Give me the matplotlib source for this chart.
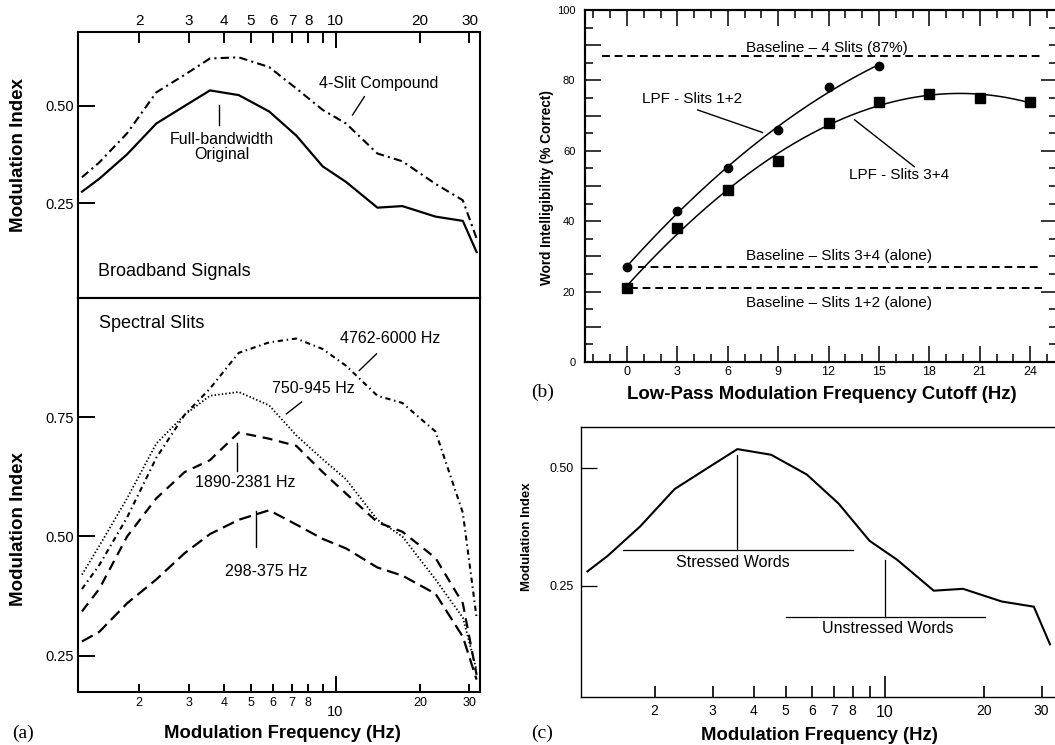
import numpy as np
import matplotlib.pyplot as plt
from matplotlib.ticker import FixedLocator, FuncFormatter, MultipleLocator

plt.rcParams['font.family'] = ['Liberation Sans', 'DejaVu Sans']

# modulation spectra, panels (a) and (c)
freq = [1.25, 1.44, 1.81, 2.30, 2.90, 3.57, 4.52, 5.80, 7.25, 9.0, 10.9, 14.1, 17.3, 22.7, 28.4, 31.8]
original = [0.280, 0.313, 0.376, 0.455, 0.500, 0.540, 0.528, 0.486, 0.424, 0.345, 0.305, 0.239, 0.243, 0.216, 0.205, 0.125]
compound = [0.317, 0.355, 0.430, 0.535, 0.580, 0.622, 0.625, 0.600, 0.545, 0.490, 0.455, 0.378, 0.358, 0.300, 0.258, 0.160]
slit_298 = [0.280, 0.300, 0.360, 0.410, 0.465, 0.505, 0.535, 0.555, 0.525, 0.495, 0.475, 0.435, 0.418, 0.380, 0.290, 0.200]
slit_750 = [0.420, 0.480, 0.580, 0.695, 0.755, 0.795, 0.803, 0.775, 0.712, 0.662, 0.620, 0.535, 0.500, 0.410, 0.330, 0.220]
slit_1890 = [0.343, 0.390, 0.500, 0.580, 0.635, 0.660, 0.718, 0.705, 0.690, 0.635, 0.590, 0.530, 0.510, 0.455, 0.360, 0.210]
slit_4762 = [0.390, 0.440, 0.540, 0.665, 0.755, 0.810, 0.885, 0.907, 0.915, 0.893, 0.858, 0.795, 0.780, 0.720, 0.550, 0.330]

# intelligibility, panel (b)
cutoff_12 = [0, 3, 6, 9, 12, 15]
score_12 = [27, 43, 55, 66, 78, 84]
cutoff_34 = [0, 3, 6, 9, 12, 15, 18, 21, 24]
score_34 = [21, 38, 49, 57, 68, 74, 76, 75, 74]
baseline_all = 87
baseline_34 = 27
baseline_12 = 21

W, H = 1055, 745
fig = plt.figure(figsize=(W / 100, H / 100), dpi=100)


def box(l, t, r, b):
    return [l / W, 1 - b / H, (r - l) / W, (b - t) / H]


def log_axis(ax, xlim):
    ax.set_xscale('log')
    ax.set_xlim(*xlim)
    ax.xaxis.set_major_locator(FixedLocator([10]))
    ax.xaxis.set_major_formatter(FuncFormatter(lambda v, p: '10'))
    ax.xaxis.set_minor_locator(FixedLocator([2, 3, 4, 5, 6, 7, 8, 9, 20, 30]))
    ax.xaxis.set_minor_formatter(FuncFormatter(lambda v, p: '' if round(v) == 9 else f'{v:g}'))


ax_top = fig.add_axes(box(78, 32, 480, 298))
ax_bot = fig.add_axes(box(78, 298, 480, 692))
ax_b = fig.add_axes(box(585, 10, 1057, 362))
ax_c = fig.add_axes(box(581, 427, 1057, 697))

# ---- (a) top: broadband
ax = ax_top
ax.plot(freq, original, color='k', lw=1.6)
ax.plot(freq, compound, color='k', lw=1.5, dashes=[4, 2, 1, 2])
log_axis(ax, (1.21, 32.7))
ax.set_ylim(0.007, 0.69)
ax.set_yticks([0.25, 0.50], ['0.25', '0.50'])
ax.tick_params(axis='x', which='both', direction='in', top=True, bottom=False,
               labeltop=True, labelbottom=False, width=1.4, labelsize=11, pad=3)
ax.tick_params(axis='x', which='major', length=11.5)
ax.tick_params(axis='x', which='minor', length=8)
ax.tick_params(axis='y', direction='in', length=12.2, width=1.4, labelsize=10.5, pad=3)
ax.text(14.2, 0.558, '4-Slit Compound', ha='center', va='center', fontsize=11.5)
ax.plot([12.67, 11.5], [0.524, 0.477], color='k', lw=1)
ax.text(3.93, 0.396, 'Full-bandwidth\nOriginal', ha='center', va='center', fontsize=11.5, linespacing=1.0)
ax.plot([3.83, 3.83], [0.503, 0.451], color='k', lw=1)
ax.text(1.42, 0.074, 'Broadband Signals', ha='left', va='center', fontsize=13)

# ---- (a) bottom: spectral slits
ax = ax_bot
ax.plot(freq, slit_4762, color='k', lw=1.5, dashes=[2.5, 1.8, 0.7, 1.8])
ax.plot(freq, slit_750, color='k', lw=1.3, dashes=[0.8, 1.2])
ax.plot(freq, slit_1890, color='k', lw=1.6, dashes=[4.5, 3])
ax.plot(freq, slit_298, color='k', lw=1.6, dashes=[5.5, 2.7])
log_axis(ax, (1.21, 32.7))
ax.set_ylim(0.174, 1.0)
ax.set_yticks([0.25, 0.50, 0.75], ['0.25', '0.50', '0.75'])
ax.tick_params(axis='x', which='both', direction='in', width=1.4)
ax.tick_params(axis='x', which='major', length=11.5, labelsize=10.5, pad=9)
ax.tick_params(axis='x', which='minor', length=5.8, labelsize=9, pad=3.5)
ax.tick_params(axis='y', direction='in', length=12.2, width=1.4, labelsize=10.5, pad=3)
ax.text(1.44, 0.946, 'Spectral Slits', ha='left', va='center', fontsize=13)
ax.text(15.6, 0.915, '4762-6000 Hz', ha='center', va='center', fontsize=11.5)
ax.plot([14.0, 12.15], [0.883, 0.848], color='k', lw=1)
ax.text(8.35, 0.810, '750-945 Hz', ha='center', va='center', fontsize=11.5)
ax.plot([7.57, 6.68], [0.782, 0.757], color='k', lw=1)
ax.text(4.78, 0.613, '1890-2381 Hz', ha='center', va='center', fontsize=11.5)
ax.plot([4.46, 4.46], [0.697, 0.638], color='k', lw=1)
ax.text(5.65, 0.427, '298-375 Hz', ha='center', va='center', fontsize=11.5)
ax.plot([5.2, 5.2], [0.554, 0.477], color='k', lw=1)

for ax in (ax_top, ax_bot):
    for s in ax.spines.values():
        s.set_linewidth(1.5)

# ---- (b): intelligibility vs low-pass cutoff
ax = ax_b
xs12 = np.linspace(0, 15, 100)
xs34 = np.linspace(0, 24, 200)
ax.plot(xs12, np.polyval(np.polyfit(cutoff_12, score_12, 2), xs12), color='k', lw=1.1)
ax.plot(xs34, np.polyval(np.polyfit(cutoff_34, score_34, 3), xs34), color='k', lw=1.1)
ax.plot(cutoff_12, score_12, 'o', color='k', ms=6)
ax.plot(cutoff_34, score_34, 's', color='k', ms=6.5)
ax.hlines(baseline_all, -1.5, 24.7, color='k', lw=1.4, linestyles=(0, (4, 2.5)))
ax.hlines(baseline_34, 0.65, 24.7, color='k', lw=1.4, linestyles=(0, (4, 2.5)))
ax.hlines(baseline_12, 0.15, 24.7, color='k', lw=1.4, linestyles=(0, (4, 2.5)))
ax.set_xlim(-2.5, 25.6)
ax.set_ylim(0, 100)
ax.xaxis.set_major_locator(MultipleLocator(3))
ax.xaxis.set_minor_locator(MultipleLocator(1))
ax.yaxis.set_major_locator(MultipleLocator(10))
ax.yaxis.set_minor_locator(MultipleLocator(5))
ax.yaxis.set_major_formatter(FuncFormatter(lambda v, p: f'{v:.0f}' if v % 20 == 0 else ''))
ax.tick_params(axis='x', which='both', direction='in', top=True, width=1.1, labelsize=9, pad=3)
ax.tick_params(axis='y', which='both', direction='in', width=1.1, labelsize=8, pad=7)
ax.tick_params(which='major', length=11.5)
ax.tick_params(which='minor', length=6)
ax.text(11.9, 89.1, 'Baseline – 4 Slits (87%)', ha='center', va='center', fontsize=11)
ax.text(3.9, 74.7, 'LPF - Slits 1+2', ha='center', va='center', fontsize=11)
ax.plot([4.21, 8.07], [71.6, 65.2], color='k', lw=1)
ax.text(16.2, 53.2, 'LPF - Slits 3+4', ha='center', va='center', fontsize=11)
ax.plot([13.55, 17.1], [68.8, 55.5], color='k', lw=1)
ax.text(12.6, 30.0, 'Baseline – Slits 3+4 (alone)', ha='center', va='center', fontsize=11)
ax.text(12.6, 16.7, 'Baseline – Slits 1+2 (alone)', ha='center', va='center', fontsize=11)
for s in ax.spines.values():
    s.set_linewidth(1.5)

ax_r = ax_b.twinx()
ax_r.set_ylim(0, 100)
ax_r.yaxis.set_major_locator(MultipleLocator(20))
ax_r.yaxis.set_minor_locator(MultipleLocator(5))
ax_r.tick_params(axis='y', which='both', direction='in', width=1.1, labelright=False)
ax_r.tick_params(which='major', length=11.5)
ax_r.tick_params(which='minor', length=6)
for s in ax_r.spines.values():
    s.set_linewidth(1.5)

# ---- (c): stressed vs unstressed
ax = ax_c
ax.plot(freq, original, color='k', lw=1.5)
log_axis(ax, (1.195, 33.4))
ax.set_ylim(0.013, 0.587)
ax.set_yticks([0.25, 0.50], ['0.25', '0.50'])
ax.tick_params(axis='x', which='both', direction='in', width=1.2)
ax.tick_params(axis='x', which='major', length=15, labelsize=11.5, pad=6)
ax.tick_params(axis='x', which='minor', length=7.7, labelsize=10, pad=5)
ax.tick_params(axis='y', direction='in', length=11.5, width=0.9, labelsize=9, pad=5.5)
ax.plot([1.6, 8.0], [0.326, 0.326], color='k', lw=0.9)
ax.plot([3.57, 3.57], [0.326, 0.528], color='k', lw=0.9)
ax.text(3.47, 0.298, 'Stressed Words', ha='center', va='center', fontsize=11.5)
ax.plot([5.0, 20.2], [0.184, 0.184], color='k', lw=0.9)
ax.plot([10, 10], [0.184, 0.305], color='k', lw=0.9)
ax.text(10.2, 0.159, 'Unstressed Words', ha='center', va='center', fontsize=11.5)
for s in ax.spines.values():
    s.set_linewidth(1.0)

# figure-level labels
bold = dict(fontweight='bold', ha='center', va='center')
fig.text(0.0176, 0.792, 'Modulation Index', rotation=90, fontsize=13.5, **bold)
fig.text(0.0176, 0.290, 'Modulation Index', rotation=90, fontsize=13.5, **bold)
fig.text(0.268, 0.016, 'Modulation Frequency (Hz)', fontsize=13.3, **bold)
fig.text(0.5185, 0.748, 'Word Intelligibility (% Correct)', rotation=90, fontsize=9.8, **bold)
fig.text(0.779, 0.470, 'Low-Pass Modulation Frequency Cutoff (Hz)', fontsize=13.4, **bold)
fig.text(0.4995, 0.280, 'Modulation Index', rotation=90, fontsize=9.5, **bold)
fig.text(0.777, 0.0134, 'Modulation Frequency (Hz)', fontsize=13.3, **bold)

serif = dict(family=['Liberation Serif', 'DejaVu Serif'], fontsize=14, ha='center', va='center')
fig.text(0.0218, 0.016, '(a)', **serif)
fig.text(0.514, 0.474, '(b)', **serif)
fig.text(0.514, 0.016, '(c)', **serif)

fig.savefig('out.png', dpi=100)
